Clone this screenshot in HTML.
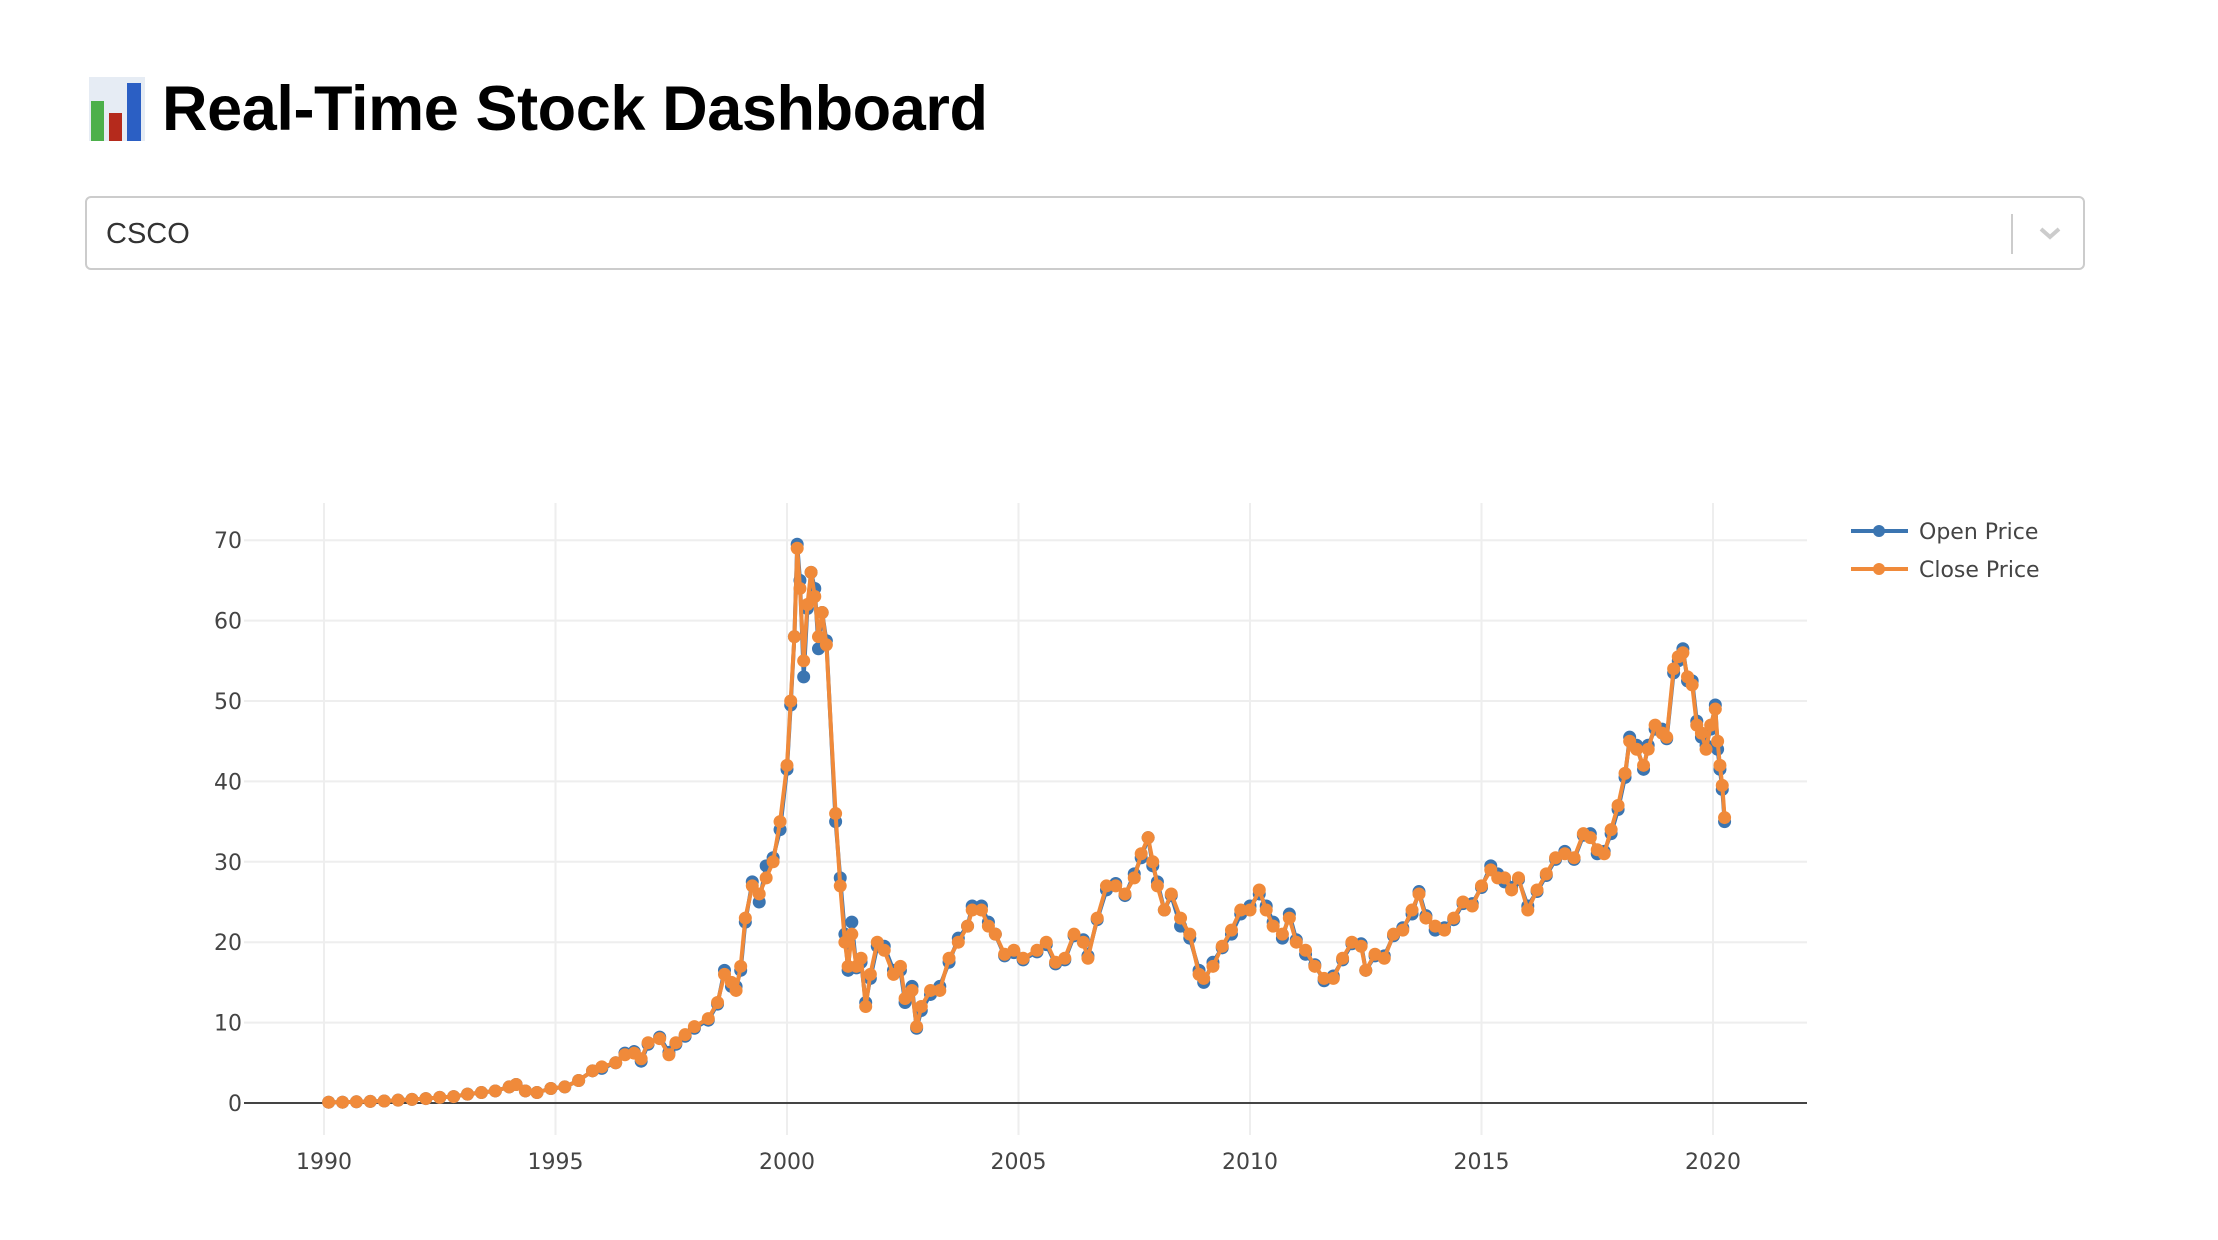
<!DOCTYPE html>
<html><head><meta charset="utf-8">
<style>
html,body{margin:0;padding:0;background:#fff;width:2218px;height:1240px;overflow:hidden;}
body{font-family:"Liberation Sans",sans-serif;position:relative;}
#title{position:absolute;left:89px;top:69px;height:80px;display:flex;align-items:center;}
#title h1{margin:0 0 0 17px;font-size:63px;font-weight:bold;color:#000;letter-spacing:-0.4px;}
#dropdown{position:absolute;left:85px;top:196px;width:2000px;height:74px;box-sizing:border-box;border:2px solid #ccc;border-radius:6px;background:#fff;}
#dropdown .val{position:absolute;left:19px;top:0;line-height:72px;font-size:29px;color:#333;}
#dropdown .sep{position:absolute;left:1924px;top:16px;width:2px;height:40px;background:#ccc;}
#chart{position:absolute;left:0;top:0;}
</style></head><body>
<div id="title">
<svg width="56" height="64" viewBox="0 0 56 64">
<rect x="0" y="0" width="56" height="64" fill="#e6ecf4"/>
<rect x="2" y="24" width="13" height="40" fill="#4cb04a"/>
<rect x="20" y="36" width="13" height="28" fill="#b52a1c"/>
<rect x="38" y="6" width="14" height="58" fill="#2b5fc4"/>
</svg>
<h1>Real-Time Stock Dashboard</h1>
</div>
<div id="dropdown">
<span class="val">CSCO</span>
<div class="sep"></div>
<svg style="position:absolute;left:1951px;top:26px" width="24" height="20"><polyline points="3,5 12,13 21,5" fill="none" stroke="#ccc" stroke-width="4"/></svg>
</div>
<svg id="chart" width="2218" height="1240"></svg>
<script>
const years=[1990.1,1990.4,1990.7,1991.0,1991.3,1991.6,1991.9,1992.2,1992.5,1992.8,1993.1,1993.4,1993.7,1994.0,1994.15,1994.35,1994.6,1994.9,1995.2,1995.5,1995.8,1996.0,1996.3,1996.5,1996.7,1996.85,1997.0,1997.25,1997.45,1997.6,1997.8,1998.0,1998.3,1998.5,1998.65,1998.8,1998.9,1999.0,1999.1,1999.25,1999.4,1999.55,1999.7,1999.85,2000.0,2000.08,2000.16,2000.22,2000.28,2000.36,2000.44,2000.52,2000.6,2000.68,2000.76,2000.85,2001.05,2001.15,2001.25,2001.32,2001.4,2001.5,2001.6,2001.7,2001.8,2001.95,2002.1,2002.3,2002.45,2002.55,2002.7,2002.8,2002.9,2003.1,2003.3,2003.5,2003.7,2003.9,2004.0,2004.2,2004.35,2004.5,2004.7,2004.9,2005.1,2005.4,2005.6,2005.8,2006.0,2006.2,2006.4,2006.5,2006.7,2006.9,2007.1,2007.3,2007.5,2007.65,2007.8,2007.9,2008.0,2008.15,2008.3,2008.5,2008.7,2008.9,2009.0,2009.2,2009.4,2009.6,2009.8,2010.0,2010.2,2010.35,2010.5,2010.7,2010.85,2011.0,2011.2,2011.4,2011.6,2011.8,2012.0,2012.2,2012.4,2012.5,2012.7,2012.9,2013.1,2013.3,2013.5,2013.65,2013.8,2014.0,2014.2,2014.4,2014.6,2014.8,2015.0,2015.2,2015.35,2015.5,2015.65,2015.8,2016.0,2016.2,2016.4,2016.6,2016.8,2017.0,2017.2,2017.35,2017.5,2017.65,2017.8,2017.95,2018.1,2018.2,2018.35,2018.5,2018.6,2018.75,2018.9,2019.0,2019.15,2019.25,2019.35,2019.45,2019.55,2019.65,2019.75,2019.85,2019.95,2020.05,2020.1,2020.15,2020.2,2020.25];
const closePrice=[0.1,0.1,0.15,0.2,0.25,0.35,0.45,0.55,0.7,0.8,1.1,1.3,1.5,2.0,2.3,1.5,1.3,1.8,2.0,2.8,4.0,4.5,5.0,6.0,6.2,5.5,7.5,8.0,6.0,7.5,8.5,9.5,10.5,12.5,16,15,14,17,23,27,26,28,30,35,42,50,58,69,64,55,62,66,63,58,61,57,36,27,20,17,21,17,18,12,16,20,19,16,17,13,14,9.5,12,14,14,18,20,22,24,24,22,21,18.5,19,18,19,20,17.5,18,21,20,18,23,27,27,26,28,31,33,30,27,24,26,23,21,16,15.5,17,19.5,21.5,24,24,26.5,24,22,21,23,20,19,17,15.5,15.5,18,20,19.5,16.5,18.5,18,21,21.5,24,26,23,22,21.5,23,25,24.5,27,29,28,28,26.5,28,24,26.5,28.5,30.5,31,30.5,33.5,33,31.5,31,34,37,41,45,44,42,44,47,46,45.5,54,55.5,56,53,52,47,46,44,47,49,45,42,39.5,35.5];
const openPrice=[0.1,0.1,0.15,0.2,0.25,0.35,0.45,0.55,0.7,0.8,1.1,1.3,1.5,2.0,2.3,1.5,1.3,1.8,2.0,2.8,4.0,4.3,5.0,6.2,6.4,5.2,7.3,8.2,6.3,7.3,8.3,9.3,10.3,12.3,16.5,14.5,14.5,16.5,22.5,27.5,25,29.5,30.5,34,41.5,49.5,58,69.5,65,53,61.5,66,64,56.5,61,57.5,35,28,21,16.5,22.5,16.8,17.5,12.5,15.5,19.5,19.5,16.5,16.5,12.5,14.5,9.3,11.5,13.5,14.5,17.5,20.5,22,24.5,24.5,22.5,21,18.3,18.7,17.8,18.8,19.7,17.3,17.8,20.8,20.3,18.3,22.8,26.5,27.3,25.8,28.5,30.5,33,29.5,27.5,24,25.8,22,20.5,16.5,15,17.5,19.3,21,23.5,24.5,26,24.5,22.5,20.5,23.5,20.3,18.5,17.2,15.2,15.8,17.8,19.8,19.8,16.5,18.3,18.3,20.8,21.8,23.5,26.3,23.3,21.5,21.8,22.8,24.8,24.8,26.8,29.5,28.5,27.5,26.8,27.8,24.5,26.3,28.3,30.3,31.3,30.3,33.3,33.5,31,31.3,33.5,36.5,40.5,45.5,44.5,41.5,44.5,46.5,46.5,45.3,53.5,55,56.5,52.5,52.5,47.5,45.5,44.5,46.5,49.5,44,41.5,39,35];
const xTicks=[1990,1995,2000,2005,2010,2015,2020];
const yTicks=[0,10,20,30,40,50,60,70];
const seriesNames=['Open Price','Close Price'];

const NS='http://www.w3.org/2000/svg';
const svg=document.getElementById('chart');
const X0=244,X1=1807,Y0=503,Y1=1135;
function xs(y){return 324+(y-1990)*46.3;}
function ys(v){return 1103-v*8.04;}
function mk(tag,attrs,parent){const e=document.createElementNS(NS,tag);for(const k in attrs)e.setAttribute(k,attrs[k]);(parent||svg).appendChild(e);return e;}
for(const t of yTicks){
 const l=mk('line',{x1:X0,x2:X1,y1:ys(t),y2:ys(t),stroke:'#eee','stroke-width':2});
 
 
 const tx=mk('text',{x:X0-2,y:ys(t)+8,'text-anchor':'end','font-size':22,fill:'#444','font-family':'DejaVu Sans, Liberation Sans, sans-serif'});
 tx.textContent=t;
 
 
}
for(const t of xTicks){
 const l=mk('line',{x1:xs(t),x2:xs(t),y1:Y0,y2:Y1,stroke:'#eee','stroke-width':2});
 
 
 const tx=mk('text',{x:xs(t),y:1169,'text-anchor':'middle','font-size':22,fill:'#444','font-family':'DejaVu Sans, Liberation Sans, sans-serif'});
 tx.textContent=t;
 
 
}
const z=mk('line',{x1:X0,x2:X1,y1:ys(0),y2:ys(0),stroke:'#444','stroke-width':2});


function drawSeries(vals,color,name){
 const g=mk('g',{});
 
 
 const pts=years.map((y,i)=>xs(y).toFixed(1)+','+ys(vals[i]).toFixed(1)).join(' ');
 mk('polyline',{points:pts,fill:'none',stroke:color,'stroke-width':4,'stroke-linejoin':'round'},g);
 years.forEach((y,i)=>{
  const c=mk('circle',{cx:xs(y),cy:ys(vals[i]),r:6.5,fill:color},g);
  
  
 });
}
drawSeries(openPrice,'#3b75b1','open-price-series');
drawSeries(closePrice,'#f08a3a','close-price-series');
const colors=['#3b75b1','#f08a3a'];
seriesNames.forEach((n,i)=>{
 const g=mk('g',{});
 
 
 const y=531+i*38;
 mk('line',{x1:1851,x2:1908,y1:y,y2:y,stroke:colors[i],'stroke-width':4},g);
 mk('circle',{cx:1879,cy:y,r:6,fill:colors[i]},g);
 const t=mk('text',{x:1919,y:y+8,'font-size':22,fill:'#444','font-family':'DejaVu Sans, Liberation Sans, sans-serif'},g);
 t.textContent=n;
});
</script>
</body></html>
